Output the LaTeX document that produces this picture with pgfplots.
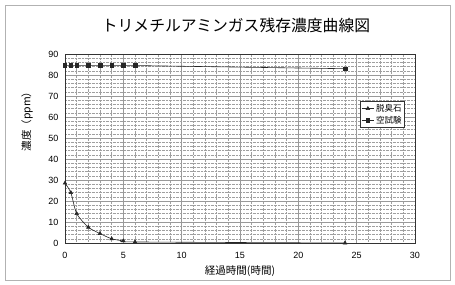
\documentclass[border=0pt]{standalone}
\usepackage{fontspec}
\usepackage{pgfplots}
\pgfplotsset{compat=1.18}
\setmainfont{Liberation Sans}
\newfontfamily\cjk{Noto Sans CJK JP}
\begin{document}
\begin{tikzpicture}[x=1pt,y=1pt]
\path[use as bounding box] (0,0) rectangle (455,284);
\draw[gray!60, line width=0.8pt] (5,4) rectangle (450,279);
\node at (236,259) {\cjk\fontsize{15.8}{18}\selectfont トリメチルアミンガス残存濃度曲線図};
\node[rotate=90] at (27,165) {\cjk\fontsize{10.5}{12}\selectfont 濃度（ppm）};
\node at (240,13) {\cjk\fontsize{10.5}{12}\selectfont 経過時間(時間)};
\begin{axis}[
  at={(65pt,41pt)}, anchor=south west, scale only axis,
  width=350pt, height=189pt,
  xmin=0, xmax=30, ymin=0, ymax=90,
  xtick={0,5,...,30}, ytick={0,10,...,90},
  minor x tick num=4, minor y tick num=4,
  grid=both,
  major grid style={gray!80, line width=0.6pt},
  minor grid style={gray!75, densely dotted, line width=0.45pt},
  major tick length=0pt, minor tick length=0pt,
  axis line style={black!80, line width=0.6pt},
  tick label style={font=\fontsize{9}{10}\selectfont},
  /pgf/number format/assume math mode=true,
  xticklabel style={yshift=-6pt},
  yticklabel style={xshift=-3pt},
  legend style={at={(0.971,0.751)}, anchor=north east, draw=black!80,
    fill=white, font=\cjk\fontsize{8.5}{9.5}\selectfont, inner sep=1pt,
    row sep=-1pt, legend cell align=left},
  legend image code/.code={
    \draw[#1] (0pt,0pt) -- (6pt,0pt) -- (12pt,0pt);
    \draw[#1,only marks] plot coordinates {(6pt,0pt)};},
]
\addplot[black!85, line width=0.6pt, smooth, tension=0.4,
  mark=triangle*, mark size=2pt, mark options={solid}] coordinates {
  (0,28.5) (0.5,24) (1,14) (2,7.5) (3,4.5) (4,2) (5,1) (6,0.5) (24,0)};
\addlegendentry{脱臭石}
\addplot[black!85, line width=0.6pt,
  mark=square*, mark size=1.8pt] coordinates {
  (0,84.5) (0.5,84.5) (1,84.5) (2,84.5) (3,84.5) (4,84.5) (5,84.5) (6,84.5) (24,83)};
\addlegendentry{空試験}
\end{axis}
\end{tikzpicture}
\end{document}
